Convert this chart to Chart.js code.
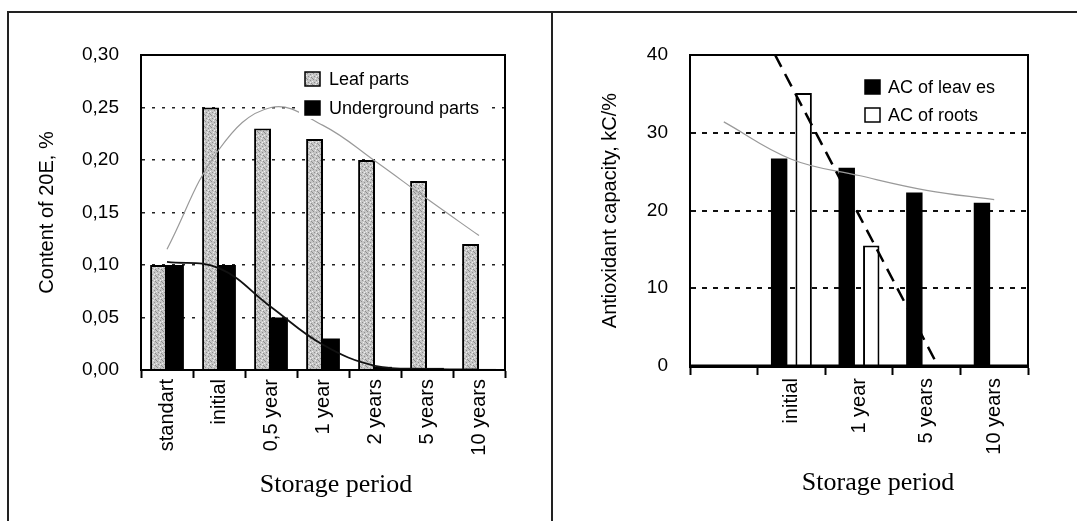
<!DOCTYPE html>
<html>
<head>
<meta charset="utf-8">
<script src="https://cdn.jsdelivr.net/npm/chart.js@4.4.1/dist/chart.umd.min.js"></script>
<style>
  body { margin: 0; background: #fff; }
  #page { position: relative; width: 1077px; height: 521px; overflow: hidden; background: #fff; }
  .rule { position: absolute; background: #222; }
  #leftWrap { position: absolute; left: 0; top: 0; width: 553px; height: 521px; }
  #rightWrap { position: absolute; left: 553px; top: 0; width: 524px; height: 521px; }
</style>
</head>
<body>
<div id="page">
  <div class="rule" style="left:7px; top:11px; width:1070px; height:2px;"></div>
  <div class="rule" style="left:7px; top:11px; width:2px; height:510px;"></div>
  <div class="rule" style="left:551px; top:11px; width:2px; height:510px;"></div>
  <div id="leftWrap"><canvas id="leftChart" width="553" height="521"></canvas></div>
  <div id="rightWrap"><canvas id="rightChart" width="524" height="521"></canvas></div>
</div>
<script>
// Left chart: 20E content
const leftCategories = ["standart", "initial", "0,5 year", "1 year", "2 years", "5 years", "10 years"];
const leafParts = [0.10, 0.25, 0.23, 0.22, 0.20, 0.18, 0.12];
const undergroundParts = [0.10, 0.10, 0.05, 0.03, 0.003, 0.002, 0.001];
const leafTrend = [0.115, 0.21, 0.25, 0.233, 0.199, 0.163, 0.128];
const undergroundTrend = [0.103, 0.097, 0.060, 0.024, 0.004, 0.001, 0.0005];
const leftYTicks = ["0,00", "0,05", "0,10", "0,15", "0,20", "0,25", "0,30"];

// Right chart: antioxidant capacity
const rightCategories = ["", "initial", "1 year", "5 years", "10 years"];
const acLeaves = [null, 26.7, 25.5, 22.3, 21.0];
const acRoots = [null, 35.1, 15.5, 0, 0];
const acLeavesTrend = [31.4, 26.6, 24.5, 22.6, 21.4];
const acRootsTrend = [52.6, 36.0, 19.4, 2.8, -13.8];
const rightYTicks = ["0", "10", "20", "30", "40"];

Chart.defaults.font.family = '"Liberation Sans", Arial, sans-serif';
Chart.defaults.color = "#000";

// speckled grey fill like the scanned bars
function makeSpeckle() {
  const c = document.createElement("canvas");
  c.width = 6;
  c.height = 6;
  const g = c.getContext("2d");
  g.fillStyle = "#c6c6c6";
  g.fillRect(0, 0, 6, 6);
  g.fillStyle = "#8e8e8e";
  [[1, 1], [4, 2], [2, 4], [5, 5], [0, 0]].forEach(([x, y]) => g.fillRect(x, y, 1, 1));
  g.fillStyle = "#efefef";
  [[3, 0], [0, 3], [4, 4]].forEach(([x, y]) => g.fillRect(x, y, 1, 1));
  return g.createPattern(c, "repeat");
}
const speckle = makeSpeckle();

// box around the plot area
const plotFrame = {
  id: "plotFrame",
  afterDatasetsDraw(chart, args, opts) {
    const { ctx, chartArea: a } = chart;
    ctx.save();
    ctx.strokeStyle = "#000";
    ctx.lineWidth = 2;
    ctx.beginPath();
    ctx.moveTo(a.left, a.bottom);
    ctx.lineTo(a.left, a.top);
    ctx.lineTo(a.right, a.top);
    ctx.lineTo(a.right, a.bottom);
    ctx.stroke();
    ctx.lineWidth = opts.baseWidth || 2;
    ctx.beginPath();
    ctx.moveTo(a.left, a.bottom);
    ctx.lineTo(a.right, a.bottom);
    ctx.stroke();
    ctx.restore();
  }
};

// legend drawn inside the plot area, on a white box
const boxLegend = {
  id: "boxLegend",
  afterDatasetsDraw(chart, args, opts) {
    const { ctx, chartArea: a } = chart;
    ctx.save();
    ctx.fillStyle = "#fff";
    ctx.fillRect(a.left + opts.box[0], a.top + opts.box[1], opts.box[2], opts.box[3]);
    ctx.font = "18px " + Chart.defaults.font.family;
    ctx.textBaseline = "middle";
    ctx.textAlign = "left";
    opts.items.forEach((item) => {
      const ds = chart.data.datasets[item.dataset];
      const x = a.left + opts.dx;
      const y = a.top + item.dy;
      ctx.fillStyle = ds.backgroundColor;
      ctx.fillRect(x, y - 7, 15, 14);
      ctx.strokeStyle = "#000";
      ctx.lineWidth = 1.5;
      ctx.strokeRect(x, y - 7, 15, 14);
      ctx.fillStyle = "#000";
      ctx.fillText(ds.label, a.left + opts.textDx, y + 1);
    });
    ctx.restore();
  }
};

// serif axis title, placed a little right of centre as in the original
const xTitle = {
  id: "xTitle",
  afterDraw(chart, args, opts) {
    const { ctx, chartArea: a } = chart;
    ctx.save();
    ctx.font = '26px "Liberation Serif", "Times New Roman", serif';
    ctx.fillStyle = "#000";
    ctx.textAlign = "center";
    ctx.textBaseline = "alphabetic";
    ctx.fillText(opts.text, (a.left + a.right) / 2 + opts.dx, opts.baseline);
    ctx.restore();
  }
};

const leftChart = new Chart(document.getElementById("leftChart"), {
  type: "bar",
  data: {
    labels: leftCategories,
    datasets: [
      {
        type: "line",
        label: "Leaf trend",
        data: leafTrend,
        borderColor: "#9a9a9a",
        borderWidth: 1.2,
        pointRadius: 0,
        tension: 0.4,
        order: 1
      },
      {
        type: "line",
        label: "Underground trend",
        data: undergroundTrend,
        borderColor: "#111",
        borderWidth: 1.8,
        pointRadius: 0,
        tension: 0.4,
        order: 0
      },
      {
        label: "Leaf parts",
        data: leafParts,
        backgroundColor: speckle,
        borderColor: "#000",
        borderWidth: 2,
        categoryPercentage: 0.65,
        barPercentage: 1.0,
        order: 2
      },
      {
        label: "Underground parts",
        data: undergroundParts,
        backgroundColor: "#000",
        borderWidth: 0,
        categoryPercentage: 0.65,
        barPercentage: 1.0,
        order: 2
      }
    ]
  },
  options: {
    responsive: false,
    animation: false,
    layout: { padding: { top: 55, right: 48, bottom: 0, left: 0 } },
    scales: {
      x: {
        grid: { drawOnChartArea: false, drawTicks: true, tickLength: 8, tickWidth: 2, tickColor: "#000", offset: true },
        border: { display: true, color: "#000", width: 2 },
        ticks: { color: "#000", font: { size: 20 }, minRotation: 90, maxRotation: 90, autoSkip: false, padding: 1 },
        afterFit: (s) => { s.height = 151; }
      },
      y: {
        min: 0,
        max: 0.3,
        ticks: { stepSize: 0.05, color: "#000", font: { size: 19 }, padding: 22, callback: (v, i) => leftYTicks[i] },
        grid: {
          drawTicks: false,
          lineWidth: 1.5,
          color: (c) => (c.index === 0 || c.index === 6 ? "rgba(0,0,0,0)" : "#222")
        },
        border: { display: true, color: "#000", width: 2, dash: [3, 7] },
        title: { display: true, text: "Content of 20E, %", color: "#000", font: { size: 20, lineHeight: 1.2 }, padding: { top: 35, bottom: 0 } },
        afterFit: (s) => { s.width = 141; }
      }
    },
    plugins: {
      legend: { display: false },
      tooltip: { enabled: false },
      plotFrame: { baseWidth: 2 },
      boxLegend: { box: [158, 9, 192, 55], dx: 164, textDx: 188, items: [{ dataset: 2, dy: 24 }, { dataset: 3, dy: 53 }] },
      xTitle: { text: "Storage period", dx: 13, baseline: 492 }
    }
  },
  plugins: [plotFrame, boxLegend, xTitle]
});

const rightChart = new Chart(document.getElementById("rightChart"), {
  type: "bar",
  data: {
    labels: rightCategories,
    datasets: [
      {
        type: "line",
        label: "Leaves trend",
        data: acLeavesTrend,
        borderColor: "#9a9a9a",
        borderWidth: 1.2,
        pointRadius: 0,
        tension: 0.4,
        order: 1
      },
      {
        type: "line",
        label: "Roots trend",
        data: acRootsTrend,
        borderColor: "#000",
        borderWidth: 2.5,
        borderDash: [14, 8],
        pointRadius: 0,
        tension: 0,
        order: 0
      },
      {
        label: "AC of leav es",
        data: acLeaves,
        backgroundColor: "#000",
        borderWidth: 0,
        categoryPercentage: 0.725,
        barPercentage: 0.67,
        order: 2
      },
      {
        label: "AC of roots",
        data: acRoots,
        backgroundColor: "#fff",
        borderColor: "#000",
        borderWidth: 2,
        categoryPercentage: 0.725,
        barPercentage: 0.67,
        order: 2
      }
    ]
  },
  options: {
    responsive: false,
    animation: false,
    layout: { padding: { top: 55, right: 49, bottom: 0, left: 0 } },
    scales: {
      x: {
        grid: { drawOnChartArea: false, drawTicks: true, tickLength: 9, tickWidth: 2, tickColor: "#000", offset: true },
        border: { display: true, color: "#000", width: 3 },
        ticks: { color: "#000", font: { size: 20 }, minRotation: 90, maxRotation: 90, autoSkip: false, padding: 3 },
        afterFit: (s) => { s.height = 155; }
      },
      y: {
        min: 0,
        max: 40,
        ticks: { stepSize: 10, color: "#000", font: { size: 19 }, padding: 22, callback: (v, i) => rightYTicks[i] },
        grid: {
          drawTicks: false,
          lineWidth: 2,
          color: (c) => (c.index === 0 || c.index === 4 ? "rgba(0,0,0,0)" : "#111")
        },
        border: { display: true, color: "#000", width: 2, dash: [5, 6] },
        title: { display: true, text: "Antioxidant capacity, kC/%", color: "#000", font: { size: 20, lineHeight: 1.2 }, padding: { top: 45, bottom: 0 } },
        afterFit: (s) => { s.width = 137; }
      }
    },
    plugins: {
      legend: { display: false },
      tooltip: { enabled: false },
      plotFrame: { baseWidth: 3 },
      boxLegend: { box: [168, 16, 150, 58], dx: 175, textDx: 198, items: [{ dataset: 2, dy: 32 }, { dataset: 3, dy: 60 }] },
      xTitle: { text: "Storage period", dx: 19, baseline: 490 }
    }
  },
  plugins: [plotFrame, boxLegend, xTitle]
});
</script>
</body>
</html>
